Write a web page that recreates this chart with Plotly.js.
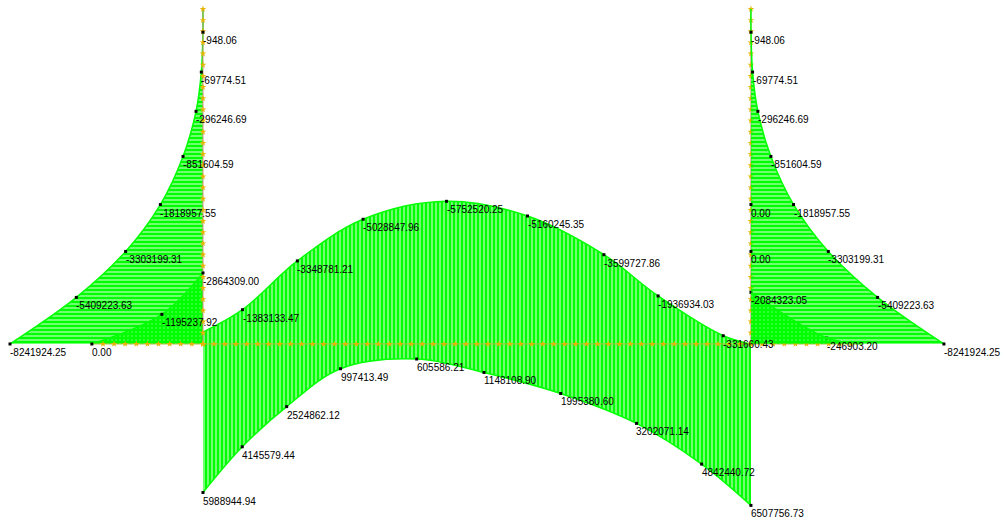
<!DOCTYPE html>
<html><head><meta charset="utf-8">
<script src="https://cdn.plot.ly/plotly-3.0.1.min.js"></script>
<style>html,body{margin:0;padding:0;background:#fff}#chart{width:1004px;height:523px}</style>
</head><body><div id="chart"></div>
<script>
// ---- data (stations in m, moments in N·mm) ----
// Columns (identical for left and right), stations measured up from the beam
const colStations = [0, 1.53, 3.04, 4.58, 6.16, 7.64, 8.93, 10.24, 11];
const colMoments  = [-8241924.25, -5409223.63, -3303199.31, -1818957.55, -851604.59, -296246.69, -69774.51, -948.06, 0];
const colLabelled = [true, true, true, true, true, true, true, true, false];

// Beam negative envelope
const beamMinStations = [0, 1.30, 3.10, 5.26, 8.00, 10.66, 13.17, 14.95, 17.09, 18];
const beamMinMoments  = [-480000, -1383133.47, -3348781.21, -5028847.96, -5752520.25, -5160245.35, -3599727.86, -1936934.03, -331660.43, 0];
const beamMinLabelled = [false, true, true, true, true, true, true, true, true, false];

// Beam positive envelope
const beamMaxStations = [0, 1.29, 2.75, 4.52, 7.02, 9.23, 11.75, 14.24, 16.38, 18];
const beamMaxMoments  = [5988944.94, 4145579.44, 2524862.12, 997413.49, 605586.21, 1148108.90, 1995380.60, 3202071.14, 4842440.72, 6507756.73];

// Left overhang
const leftOhStations = [-3.65, -1.35, 0];
const leftOhMoments  = [0, -1195237.92, -2864309.00];

// Right overhang
const rightOhStations = [18, 20.49, 21.65];
const rightOhMoments  = [-2084323.05, -246903.20, 0];
const rightOhLabelled = [true, true, false];

// Right column secondary (zero) values
const rightColZeroStations = [4.58, 3.04];
const rightColZeroMoments  = [0, 0];

// ---- geometry & drawing constants ----
const BEAM_L = 18, COL_H = 11;
const kCol = 7.69e-7, kBeam = 8.145e-7;
const GREEN = '#00ff00';
const FONT = {family: 'Liberation Sans, Arial, sans-serif', size: 10, color: '#000'};

function fmt(v){ return Math.abs(v) < 0.005 ? '0.00' : v.toFixed(2); }
function pattern(shape){ return {shape: shape, fgcolor: GREEN, bgcolor: 'rgba(255,255,255,0)', fillmode: 'replace', size: 4, solidity: 0.78}; }

const traces = [];
const ann = [];
const dotsX = [], dotsY = [], dots2X = [], dots2Y = [];

function addLabel(x, y, v, xref){
  ann.push({x: x, y: y, xref: xref || 'x', yref: 'y', text: fmt(v), showarrow: false,
    xanchor: 'left', yanchor: 'top', xshift: -1, yshift: -2, font: FONT, borderpad: 0});
  if (xref === 'x2') { dots2X.push(x); dots2Y.push(y); } else { dotsX.push(x); dotsY.push(y); }
}

// Left column (drawn to the left)
const lcX = colMoments.map(m => m * kCol);
traces.push({x: lcX.slice().reverse(), y: colStations.slice().reverse(), mode: 'lines', line: {color: GREEN, width: 1.5, shape: 'spline'},
  fill: 'tozerox', fillcolor: 'rgba(0,0,0,0)', fillpattern: pattern('-'), hoverinfo: 'skip'});
colMoments.forEach((m, i) => { if (colLabelled[i]) addLabel(lcX[i], colStations[i], m, 'x'); });

// Right column (drawn to the right, axis x2 shifted so column is at 0)
const rcX = colMoments.map(m => -m * kCol);
traces.push({x: rcX.slice().reverse(), y: colStations.slice().reverse(), xaxis: 'x2', mode: 'lines', line: {color: GREEN, width: 1.5, shape: 'spline'},
  fill: 'tozerox', fillcolor: 'rgba(0,0,0,0)', fillpattern: pattern('-'), hoverinfo: 'skip'});
colMoments.forEach((m, i) => { if (colLabelled[i]) addLabel(rcX[i], colStations[i], m, 'x2'); });
rightColZeroStations.forEach((s, i) => addLabel(0, s, rightColZeroMoments[i], 'x2'));

// Beam envelopes
const bMinY = beamMinMoments.map(m => -m * kBeam);
traces.push({x: beamMinStations, y: bMinY, mode: 'lines', line: {color: GREEN, width: 1.5, shape: 'spline'},
  fill: 'tozeroy', fillcolor: 'rgba(0,0,0,0)', fillpattern: pattern('|'), hoverinfo: 'skip'});
beamMinMoments.forEach((m, i) => { if (beamMinLabelled[i]) addLabel(beamMinStations[i], bMinY[i], m); });

const bMaxY = beamMaxMoments.map(m => -m * kBeam);
traces.push({x: beamMaxStations, y: bMaxY, mode: 'lines', line: {color: GREEN, width: 1.5, shape: 'spline'},
  fill: 'tozeroy', fillcolor: 'rgba(0,0,0,0)', fillpattern: pattern('|'), hoverinfo: 'skip'});
beamMaxMoments.forEach((m, i) => addLabel(beamMaxStations[i], bMaxY[i], m));

// Overhangs
const loY = leftOhMoments.map(m => -m * kBeam);
traces.push({x: leftOhStations, y: loY, mode: 'lines', line: {color: GREEN, width: 1.5, shape: 'spline'},
  fill: 'tozeroy', fillcolor: 'rgba(0,0,0,0)', fillpattern: pattern('|'), hoverinfo: 'skip'});
leftOhMoments.forEach((m, i) => addLabel(leftOhStations[i], loY[i], m));

const roY = rightOhMoments.map(m => -m * kBeam);
traces.push({x: rightOhStations, y: roY, mode: 'lines', line: {color: GREEN, width: 1.5, shape: 'spline'},
  fill: 'tozeroy', fillcolor: 'rgba(0,0,0,0)', fillpattern: pattern('|'), hoverinfo: 'skip'});
rightOhMoments.forEach((m, i) => { if (rightOhLabelled[i]) addLabel(rightOhStations[i], roY[i], m); });

// Members
traces.push({x: [leftOhStations[0], rightOhStations[rightOhStations.length-1]], y: [0, 0], mode: 'lines',
  line: {color: '#a8c040', width: 1}, hoverinfo: 'skip'});
traces.push({x: [0, 0, null, BEAM_L, BEAM_L], y: [0, COL_H, null, 0, COL_H], mode: 'lines',
  line: {color: '#cc8c78', width: 1}, hoverinfo: 'skip'});

// Mesh nodes
function nodes(a, b, n){ const r = []; for (let i = 0; i <= n; i++) r.push(a + (b - a) * i / n); return r; }
const nx = [], ny = [];
nodes(0, BEAM_L, 50).forEach(v => { nx.push(v); ny.push(0); });
nodes(leftOhStations[0], 0, 10).slice(1).forEach(v => { nx.push(v); ny.push(0); });
nodes(BEAM_L, rightOhStations[rightOhStations.length-1], 10).slice(1, 10).forEach(v => { nx.push(v); ny.push(0); });
nodes(0, COL_H, 30).forEach(v => { nx.push(0); ny.push(v); nx.push(BEAM_L); ny.push(v); });
traces.push({x: nx, y: ny, mode: 'markers', marker: {symbol: 'star', size: 5, color: '#e6b400', line: {width: 0}}, hoverinfo: 'skip'});

// Label dots
traces.push({x: dotsX, y: dotsY, mode: 'markers', marker: {symbol: 'square', size: 3, color: '#000'}, hoverinfo: 'skip'});
traces.push({x: dots2X, y: dots2Y, xaxis: 'x2', mode: 'markers', marker: {symbol: 'square', size: 3, color: '#000'}, hoverinfo: 'skip'});

const xr = [-6.667, 26.312];
const layout = {
  width: 1004, height: 523, margin: {l: 0, r: 0, t: 0, b: 0, pad: 0},
  paper_bgcolor: '#fff', plot_bgcolor: '#fff', showlegend: false,
  xaxis: {range: xr, visible: false, fixedrange: true},
  xaxis2: {range: [xr[0] - BEAM_L, xr[1] - BEAM_L], overlaying: 'x', visible: false, fixedrange: true},
  yaxis: {range: [-5.879, 11.297], visible: false, fixedrange: true},
  annotations: ann
};
Plotly.newPlot('chart', traces, layout, {staticPlot: true, displayModeBar: false});
</script>
</body></html>
